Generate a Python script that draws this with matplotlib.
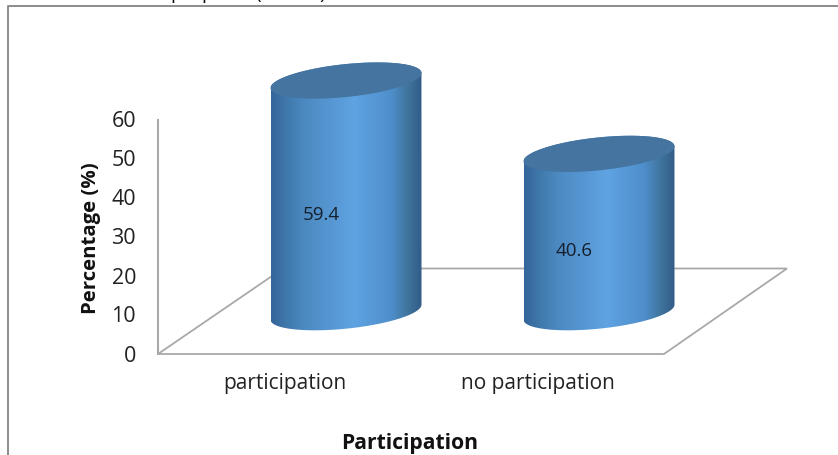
import numpy as np
import matplotlib
matplotlib.use("Agg")
import matplotlib.pyplot as plt
from matplotlib.colors import LinearSegmentedColormap
from matplotlib.patches import PathPatch, Polygon
from matplotlib.path import Path

categories = ["participation", "no participation"]
values = [59.4, 40.6]
value_ticks = [0, 10, 20, 30, 40, 50, 60]
y_label = "Percentage (%)"
x_label = "Participation"

W, H = 838, 455
plt.rcParams["font.family"] = ["Open Sans", "DejaVu Sans"]
fig = plt.figure(figsize=(W / 100, H / 100), dpi=100)
ax = fig.add_axes([0, 0, 1, 1])

PX_Y = 3.9       # pixels per percentage point
PX_X = 253.0     # pixels per category
X0, Y0 = 346.0, 354.0
ax.axis("off")

def px(x, y):
    return (x - X0) / PX_X, (Y0 - y) / PX_Y

GREY = "#a9a9a9"
# outer frame
ax.plot(*zip(px(7.5, 455), px(7.5, 6.5), px(838, 6.5)), color="#8c8c8c", lw=1.4, zorder=1)

# cropped remnants of the heading above the frame
for gx, g in zip([176, 207, 258, 322], ["p", "p", "(", ")"]):
    ax.text(*px(gx, -0.5), g, ha="center", va="baseline", fontsize=14,
            color="#111111", zorder=5, clip_on=True)

# floor and wall
floor = Polygon([px(158, 354), px(664, 354), px(787, 268.5), px(283, 268.5)],
                closed=True, fc="white", ec=GREY, lw=1.3, zorder=2)
ax.add_patch(floor)
ax.plot(*zip(px(158, 354), px(158, 120)), color=GREY, lw=1.5, zorder=2)

# cylinders
cmap = LinearSegmentedColormap.from_list("cyl", [
    (0.00, "#33659a"), (0.10, "#3f78ab"), (0.22, "#4c89c1"), (0.55, "#5fa3e2"),
    (0.80, "#4e8ecb"), (0.90, "#41769f"), (1.00, "#315c88")])
RX = 75.5 / PX_X
SHEAR = 7.5 / PX_Y
RY = 16.5 / PX_Y
BASE = 41.8 / PX_Y
t = np.linspace(0, 2 * np.pi, 181)
grad = np.linspace(0, 1, 256).reshape(1, -1)

for i, v in enumerate(values):
    top = BASE + v
    tl = np.linspace(np.pi, 2 * np.pi, 90)
    xb = i + RX * np.cos(tl)
    yb = BASE + SHEAR * np.cos(tl) + RY * np.sin(tl)
    tu = np.linspace(0, np.pi, 90)
    xt = i + RX * np.cos(tu)
    yt = top + SHEAR * np.cos(tu) + RY * np.sin(tu)
    verts = np.column_stack([np.r_[xb, xt], np.r_[yb, yt]])
    clip = PathPatch(Path(np.vstack([verts, verts[0]])), fc="none", ec="none",
                     transform=ax.transData)
    ax.add_patch(clip)
    im = ax.imshow(grad, cmap=cmap, aspect="auto", zorder=3,
                   extent=[i - RX, i + RX, BASE - 10, top + 10])
    im.set_clip_path(clip)
    ax.fill(i + RX * np.cos(t), top + SHEAR * np.cos(t) + RY * np.sin(t),
            color="#44749f", lw=0, zorder=4)
    ax.text(i - 0.097, BASE + v * 0.5 - 4.7, f"{v}", ha="center", va="center",
            fontsize=13.5, color="#16202c", zorder=5)

ax.set_xlim(-X0 / PX_X, (W - X0) / PX_X)
ax.set_ylim((Y0 - H) / PX_Y, Y0 / PX_Y)

# tick labels
for v in value_ticks:
    ax.text(*px(136, Y0 - v * PX_Y + 2), str(v), ha="right", va="center",
            fontsize=15.5, color="#222222", zorder=5)
for i, c in enumerate(categories):
    ax.text(*px(285 + i * 253, 384), c, ha="center", va="center",
            fontsize=15, color="#222222", zorder=5)
ax.text(*px(91, 238), y_label, rotation=90, ha="center", va="center",
        fontsize=14.7, fontweight="bold", color="#111111", zorder=5)
ax.text(*px(410, 444), x_label, ha="center", va="center",
        fontsize=15.2, fontweight="bold", color="#111111", zorder=5)

fig.savefig("out.png", dpi=100, facecolor="white")
